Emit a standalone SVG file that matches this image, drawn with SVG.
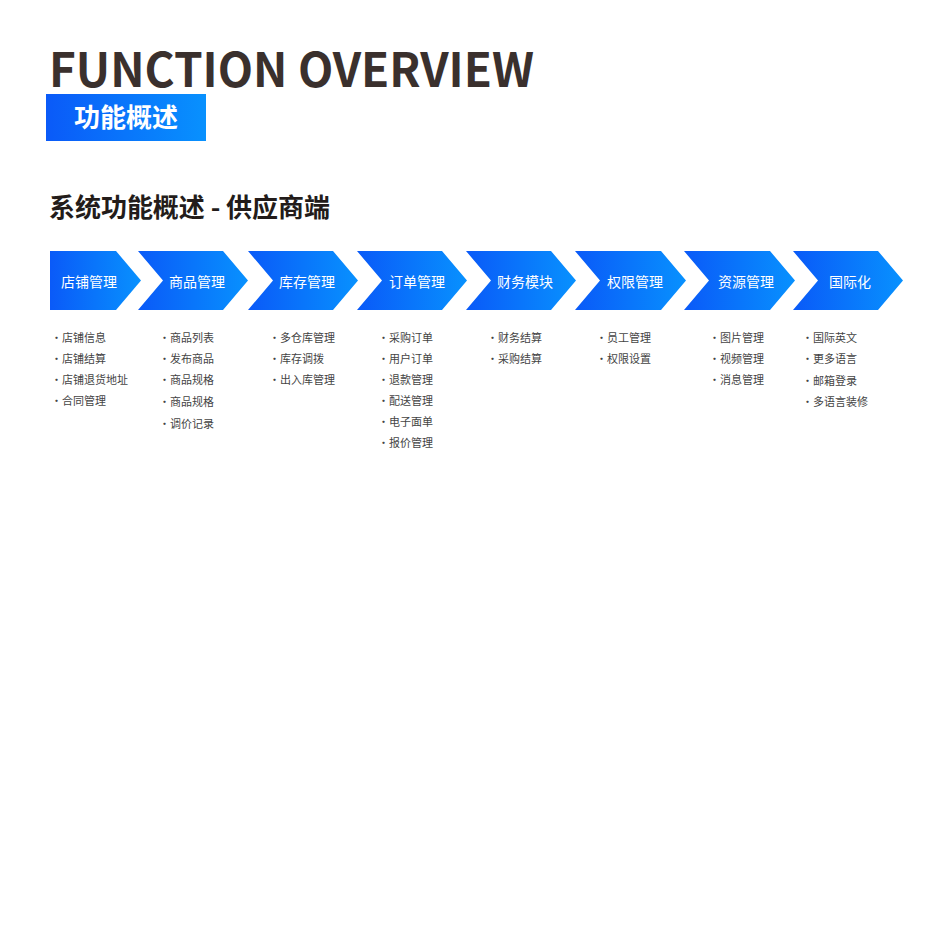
<svg xmlns="http://www.w3.org/2000/svg" width="952" height="952" viewBox="0 0 952 952">
<defs>
<linearGradient id="g" x1="0" y1="0" x2="1" y2="0"><stop offset="0" stop-color="#0a5af8"/><stop offset="1" stop-color="#0891fe"/></linearGradient>
<style>
.cjk{font-family:"Noto Sans CJK SC","Noto Sans",sans-serif}
.h{font-size:14px;fill:#fff;text-anchor:middle;font-family:"Noto Sans CJK SC",sans-serif}
.it{font-size:11px;fill:#444;font-family:"Noto Sans CJK SC",sans-serif}
</style>
</defs>
<rect width="952" height="952" fill="#fff"/>
<text x="49" y="87" font-family="'Noto Sans CJK SC','Noto Sans',sans-serif" font-weight="bold" font-size="47" fill="#3a302d" textLength="485" lengthAdjust="spacingAndGlyphs">FUNCTION OVERVIEW</text>
<rect x="46" y="94" width="160" height="47" fill="url(#g)"/>
<text x="126" y="127" text-anchor="middle" class="cjk" font-weight="bold" font-size="26" fill="#fff">功能概述</text>
<text x="49" y="217" class="cjk" font-weight="bold" font-size="26" fill="#231c1a" textLength="281">系统功能概述 - 供应商端</text>
<g id="n1"><polygon points="50,251 116,251 141,280.5 116,310 50,310" fill="url(#g)"/><text class="h" x="89" y="287">店铺管理</text>
<text class="it"><tspan x="51" y="342">·店铺信息</tspan><tspan x="51" y="363">·店铺结算</tspan><tspan x="51" y="384">·店铺退货地址</tspan><tspan x="51" y="405">·合同管理</tspan></text></g>
<g id="n2"><polygon points="138,251 223,251 248,280.5 223,310 138,310 163,280.5" fill="url(#g)"/><text class="h" x="197" y="287">商品管理</text>
<text class="it"><tspan x="159" y="342">·商品列表</tspan><tspan x="159" y="363">·发布商品</tspan><tspan x="159" y="384">·商品规格</tspan><tspan x="159" y="406">·商品规格</tspan><tspan x="159" y="428">·调价记录</tspan></text></g>
<g id="n3"><polygon points="248,251 333,251 358,280.5 333,310 248,310 273,280.5" fill="url(#g)"/><text class="h" x="307" y="287">库存管理</text>
<text class="it"><tspan x="269" y="342">·多仓库管理</tspan><tspan x="269" y="363">·库存调拨</tspan><tspan x="269" y="384">·出入库管理</tspan></text></g>
<g id="n4"><polygon points="357,251 442,251 467,280.5 442,310 357,310 382,280.5" fill="url(#g)"/><text class="h" x="417" y="287">订单管理</text>
<text class="it"><tspan x="378" y="342">·采购订单</tspan><tspan x="378" y="363">·用户订单</tspan><tspan x="378" y="384">·退款管理</tspan><tspan x="378" y="405">·配送管理</tspan><tspan x="378" y="426">·电子面单</tspan><tspan x="378" y="447">·报价管理</tspan></text></g>
<g id="n5"><polygon points="466,251 551,251 576,280.5 551,310 466,310 491,280.5" fill="url(#g)"/><text class="h" x="525" y="287">财务模块</text>
<text class="it"><tspan x="487" y="342">·财务结算</tspan><tspan x="487" y="363">·采购结算</tspan></text></g>
<g id="n6"><polygon points="575,251 661,251 686,280.5 661,310 575,310 600,280.5" fill="url(#g)"/><text class="h" x="635" y="287">权限管理</text>
<text class="it"><tspan x="596" y="342">·员工管理</tspan><tspan x="596" y="363">·权限设置</tspan></text></g>
<g id="n7"><polygon points="684,251 770,251 795,280.5 770,310 684,310 709,280.5" fill="url(#g)"/><text class="h" x="746" y="287">资源管理</text>
<text class="it"><tspan x="709" y="342">·图片管理</tspan><tspan x="709" y="363">·视频管理</tspan><tspan x="709" y="384">·消息管理</tspan></text></g>
<g id="n8"><polygon points="793,251 878,251 903,280.5 878,310 793,310 818,280.5" fill="url(#g)"/><text class="h" x="850" y="287">国际化</text>
<text class="it"><tspan x="802" y="342">·国际英文</tspan><tspan x="802" y="363">·更多语言</tspan><tspan x="802" y="385">·邮箱登录</tspan><tspan x="802" y="406">·多语言装修</tspan></text></g>
<g id="connectors"/>
</svg>
